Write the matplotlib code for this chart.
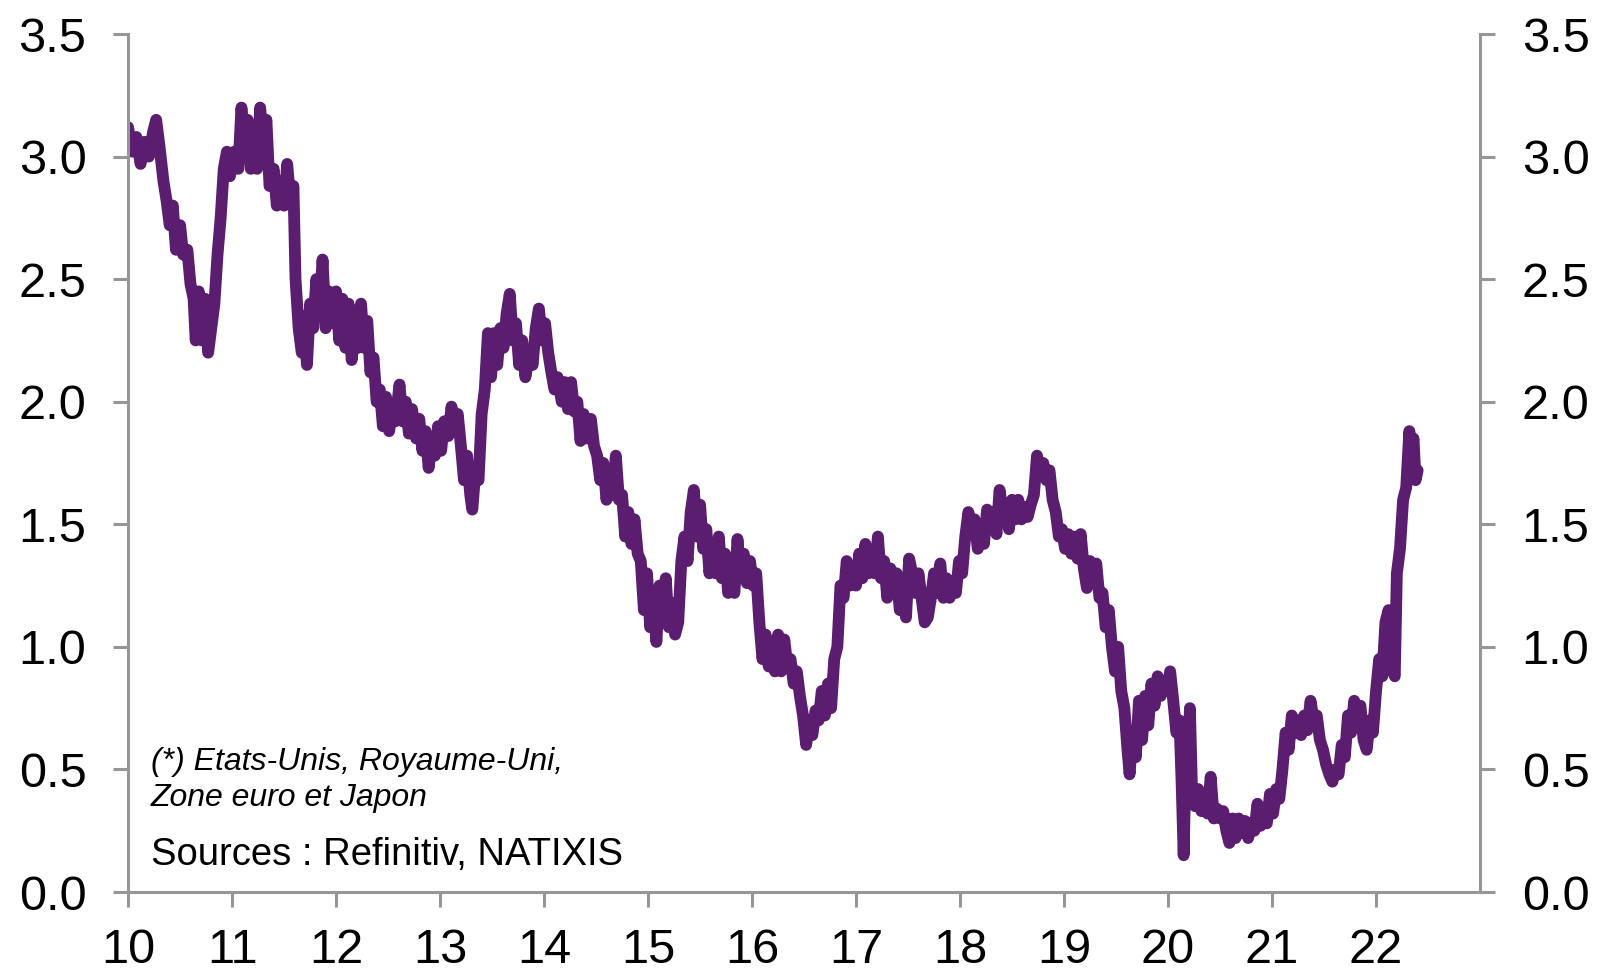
import matplotlib
matplotlib.use("Agg")
import matplotlib.pyplot as plt

plt.rcParams['font.family'] = ['Liberation Sans', 'DejaVu Sans']

# time in years (10 = 2010), values in %
t_2010 = [10.00, 10.04, 10.08, 10.12, 10.16, 10.20, 10.24, 10.27, 10.30, 10.34, 10.37, 10.40, 10.43, 10.46, 10.50, 10.53,
          10.57, 10.60, 10.63, 10.65, 10.68, 10.71, 10.74, 10.77, 10.80, 10.83, 10.86, 10.89, 10.92, 10.95, 10.98]
v_2010 = [3.12, 3.02, 3.08, 2.97, 3.06, 3.00, 3.10, 3.15, 3.05, 2.90, 2.82, 2.72, 2.80, 2.62, 2.72, 2.60,
          2.62, 2.48, 2.42, 2.25, 2.45, 2.25, 2.42, 2.20, 2.30, 2.40, 2.60, 2.75, 2.95, 3.02, 2.92]
t_2011 = [11.02, 11.06, 11.09, 11.12, 11.15, 11.18, 11.21, 11.24, 11.27, 11.30, 11.33, 11.36, 11.40, 11.43, 11.47, 11.50,
          11.53, 11.56, 11.59, 11.61, 11.64, 11.67, 11.69, 11.72, 11.75, 11.78, 11.81, 11.84, 11.87, 11.90, 11.93, 11.96, 12.00]
v_2011 = [3.02, 2.95, 3.20, 3.05, 3.15, 2.95, 3.10, 2.95, 3.20, 3.05, 3.15, 2.88, 2.95, 2.80, 2.90, 2.80,
          2.97, 2.82, 2.88, 2.50, 2.30, 2.20, 2.35, 2.15, 2.40, 2.30, 2.50, 2.35, 2.58, 2.30, 2.45, 2.32, 2.45]
t_2012 = [12.03, 12.06, 12.09, 12.12, 12.15, 12.18, 12.21, 12.24, 12.27, 12.30, 12.33, 12.36, 12.39, 12.42, 12.45, 12.48,
          12.51, 12.54, 12.57, 12.61, 12.64, 12.67, 12.70, 12.73, 12.77, 12.80, 12.83, 12.86, 12.89, 12.92, 12.95, 12.98]
v_2012 = [2.25, 2.42, 2.22, 2.40, 2.17, 2.30, 2.22, 2.40, 2.22, 2.33, 2.12, 2.18, 2.00, 2.05, 1.90, 2.02,
          1.88, 1.97, 1.92, 2.07, 1.92, 2.00, 1.87, 1.97, 1.85, 1.93, 1.80, 1.88, 1.73, 1.84, 1.78, 1.90]
t_2013 = [13.01, 13.04, 13.08, 13.11, 13.14, 13.17, 13.20, 13.23, 13.26, 13.29, 13.31, 13.34, 13.37, 13.40, 13.43, 13.46,
          13.49, 13.52, 13.55, 13.58, 13.61, 13.64, 13.67, 13.70, 13.73, 13.76, 13.79, 13.82, 13.86, 13.89, 13.92, 13.95, 13.98]
v_2013 = [1.80, 1.92, 1.86, 1.98, 1.88, 1.95, 1.82, 1.68, 1.78, 1.62, 1.56, 1.72, 1.68, 1.95, 2.05, 2.28,
          2.10, 2.28, 2.15, 2.30, 2.22, 2.36, 2.44, 2.25, 2.32, 2.15, 2.25, 2.10, 2.20, 2.15, 2.30, 2.38, 2.25]
t_2014 = [14.01, 14.04, 14.07, 14.10, 14.13, 14.17, 14.20, 14.23, 14.26, 14.29, 14.32, 14.35, 14.38, 14.41, 14.45, 14.48,
          14.51, 14.54, 14.57, 14.60, 14.63, 14.66, 14.69, 14.72, 14.75, 14.78, 14.81, 14.84, 14.87, 14.90, 14.93, 14.96, 14.99]
v_2014 = [2.32, 2.20, 2.12, 2.05, 2.10, 2.00, 2.08, 1.97, 2.08, 1.96, 2.00, 1.84, 1.95, 1.85, 1.93, 1.82,
          1.78, 1.68, 1.75, 1.60, 1.70, 1.62, 1.78, 1.60, 1.62, 1.45, 1.55, 1.42, 1.52, 1.38, 1.35, 1.15, 1.30]
t_2015 = [15.02, 15.05, 15.08, 15.11, 15.14, 15.17, 15.20, 15.23, 15.26, 15.29, 15.32, 15.35, 15.38, 15.41, 15.44, 15.47,
          15.50, 15.53, 15.56, 15.59, 15.62, 15.65, 15.68, 15.71, 15.74, 15.77, 15.80, 15.83, 15.86, 15.89, 15.92, 15.95, 15.98]
v_2015 = [1.08, 1.20, 1.02, 1.25, 1.10, 1.28, 1.08, 1.18, 1.05, 1.10, 1.35, 1.45, 1.35, 1.55, 1.64, 1.45,
          1.58, 1.40, 1.48, 1.30, 1.42, 1.30, 1.45, 1.28, 1.38, 1.22, 1.30, 1.22, 1.44, 1.28, 1.38, 1.26, 1.35]
t_2016 = [16.01, 16.04, 16.07, 16.10, 16.13, 16.16, 16.19, 16.22, 16.25, 16.28, 16.31, 16.34, 16.37, 16.40, 16.43, 16.46,
          16.49, 16.52, 16.55, 16.58, 16.61, 16.64, 16.67, 16.70, 16.73, 16.76, 16.79, 16.82, 16.85, 16.88, 16.91, 16.94, 16.97]
v_2016 = [1.25, 1.30, 1.10, 0.95, 1.05, 0.92, 1.02, 0.90, 1.05, 0.90, 1.03, 0.92, 0.95, 0.85, 0.90, 0.80,
          0.72, 0.60, 0.70, 0.64, 0.74, 0.70, 0.82, 0.72, 0.85, 0.75, 0.95, 1.00, 1.25, 1.20, 1.35, 1.25, 1.30]
t_2017 = [17.00, 17.03, 17.06, 17.09, 17.12, 17.15, 17.18, 17.21, 17.24, 17.27, 17.30, 17.33, 17.36, 17.39, 17.42, 17.45,
          17.48, 17.51, 17.54, 17.57, 17.60, 17.63, 17.66, 17.69, 17.72, 17.75, 17.78, 17.81, 17.84, 17.87, 17.90, 17.93, 17.96, 17.99]
v_2017 = [1.25, 1.38, 1.28, 1.42, 1.30, 1.38, 1.30, 1.45, 1.28, 1.35, 1.20, 1.32, 1.22, 1.30, 1.15, 1.20,
          1.12, 1.36, 1.30, 1.22, 1.30, 1.20, 1.10, 1.12, 1.20, 1.30, 1.22, 1.34, 1.20, 1.28, 1.20, 1.26, 1.22, 1.35]
t_2018 = [18.02, 18.05, 18.08, 18.11, 18.14, 18.17, 18.20, 18.23, 18.26, 18.29, 18.32, 18.35, 18.38, 18.41, 18.44, 18.47,
          18.50, 18.53, 18.56, 18.59, 18.62, 18.65, 18.68, 18.71, 18.74, 18.77, 18.80, 18.83, 18.86, 18.89, 18.92, 18.95, 18.98]
v_2018 = [1.30, 1.45, 1.55, 1.48, 1.52, 1.40, 1.48, 1.42, 1.56, 1.50, 1.55, 1.46, 1.64, 1.55, 1.58, 1.48,
          1.60, 1.52, 1.60, 1.52, 1.57, 1.53, 1.58, 1.62, 1.78, 1.70, 1.75, 1.68, 1.72, 1.60, 1.55, 1.45, 1.48]
t_2019 = [19.01, 19.04, 19.07, 19.10, 19.13, 19.16, 19.19, 19.22, 19.25, 19.28, 19.31, 19.34, 19.37, 19.40, 19.43, 19.46,
          19.49, 19.52, 19.55, 19.58, 19.61, 19.63, 19.66, 19.69, 19.72, 19.75, 19.78, 19.81, 19.84, 19.87, 19.90, 19.93, 19.96, 19.99]
v_2019 = [1.40, 1.46, 1.38, 1.45, 1.36, 1.46, 1.32, 1.24, 1.35, 1.30, 1.34, 1.20, 1.22, 1.08, 1.15, 1.00,
          0.90, 1.00, 0.82, 0.75, 0.58, 0.48, 0.65, 0.55, 0.78, 0.62, 0.80, 0.68, 0.85, 0.76, 0.88, 0.80, 0.86, 0.82]
t_2020 = [20.02, 20.05, 20.08, 20.11, 20.13, 20.15, 20.17, 20.19, 20.21, 20.23, 20.26, 20.29, 20.32, 20.35, 20.38, 20.41,
          20.44, 20.47, 20.50, 20.53, 20.56, 20.59, 20.62, 20.65, 20.68, 20.71, 20.74, 20.77, 20.80, 20.83, 20.86, 20.89,
          20.92, 20.95, 20.98]
v_2020 = [0.90, 0.78, 0.65, 0.70, 0.45, 0.15, 0.55, 0.40, 0.75, 0.42, 0.35, 0.42, 0.33, 0.38, 0.32, 0.47,
          0.30, 0.34, 0.30, 0.33, 0.25, 0.20, 0.30, 0.22, 0.30, 0.24, 0.29, 0.22, 0.28, 0.25, 0.36, 0.27,
          0.32, 0.28, 0.40]
t_2021 = [21.01, 21.04, 21.07, 21.10, 21.13, 21.16, 21.19, 21.22, 21.25, 21.28, 21.31, 21.34, 21.37, 21.40, 21.43, 21.46,
          21.49, 21.52, 21.55, 21.58, 21.61, 21.64, 21.67, 21.70, 21.73, 21.76, 21.79, 21.82, 21.85, 21.88, 21.91, 21.94, 21.97]
v_2021 = [0.32, 0.42, 0.38, 0.50, 0.65, 0.58, 0.72, 0.65, 0.70, 0.64, 0.72, 0.66, 0.78, 0.70, 0.72, 0.62,
          0.58, 0.52, 0.48, 0.45, 0.50, 0.48, 0.60, 0.55, 0.72, 0.65, 0.78, 0.70, 0.76, 0.62, 0.58, 0.70, 0.65]
t_2022 = [22.00, 22.03, 22.06, 22.09, 22.12, 22.15, 22.18, 22.20, 22.23, 22.26, 22.29, 22.32, 22.34, 22.36, 22.38, 22.40]
v_2022 = [0.82, 0.95, 0.88, 1.10, 1.15, 0.92, 0.88, 1.30, 1.40, 1.60, 1.65, 1.88, 1.78, 1.85, 1.68, 1.72]

t_all = (t_2010 + t_2011 + t_2012 + t_2013 + t_2014 + t_2015 + t_2016 + t_2017 +
         t_2018 + t_2019 + t_2020 + t_2021 + t_2022)
v_all = (v_2010 + v_2011 + v_2012 + v_2013 + v_2014 + v_2015 + v_2016 + v_2017 +
         v_2018 + v_2019 + v_2020 + v_2021 + v_2022)

x_ticks = list(range(10, 23))
x_labels = [str(v) for v in x_ticks]
y_ticks = [0.0, 0.5, 1.0, 1.5, 2.0, 2.5, 3.0, 3.5]
y_labels = ['%.1f' % v for v in y_ticks]

note_lines = ["(*) Etats-Unis, Royaume-Uni,", "Zone euro et Japon"]
source_text = "Sources : Refinitiv, NATIXIS"

line_color = '#5A1D70'
axis_color = '#969696'

fig = plt.figure(figsize=(16.03, 9.72), dpi=100)
ax = fig.add_axes([0.0799, 0.0823, 0.9233 - 0.0799, 0.965 - 0.0823])

ax.plot(t_all, v_all, color=line_color, lw=8.5, solid_joinstyle='round', solid_capstyle='round')

ax.set_xlim(10, 23)
ax.set_ylim(0, 3.5)
ax.set_xticks(x_ticks)
ax.set_xticklabels(x_labels)
ax.set_yticks(y_ticks)
ax.set_yticklabels(y_labels)

for s in ['left', 'right', 'bottom']:
    ax.spines[s].set_color(axis_color)
    ax.spines[s].set_linewidth(2.2)
ax.spines['top'].set_visible(False)

ax.tick_params(axis='y', which='both', left=True, right=True, labelleft=True, labelright=True,
               direction='out', length=11, width=2.2, color=axis_color, labelsize=35, pad=19,
               labelcolor='black')
ax.tick_params(axis='x', direction='out', length=11, width=2.2, color=axis_color, labelsize=35,
               pad=15, labelcolor='black')

ax.text(10.22, 0.53, note_lines[0], fontsize=23, style='italic', va='center', ha='left', color='black')
ax.text(10.22, 0.385, note_lines[1], fontsize=23, style='italic', va='center', ha='left', color='black')
ax.text(10.22, 0.15, source_text, fontsize=27.5, va='center', ha='left', color='black')

fig.savefig('out.png', dpi=100)
